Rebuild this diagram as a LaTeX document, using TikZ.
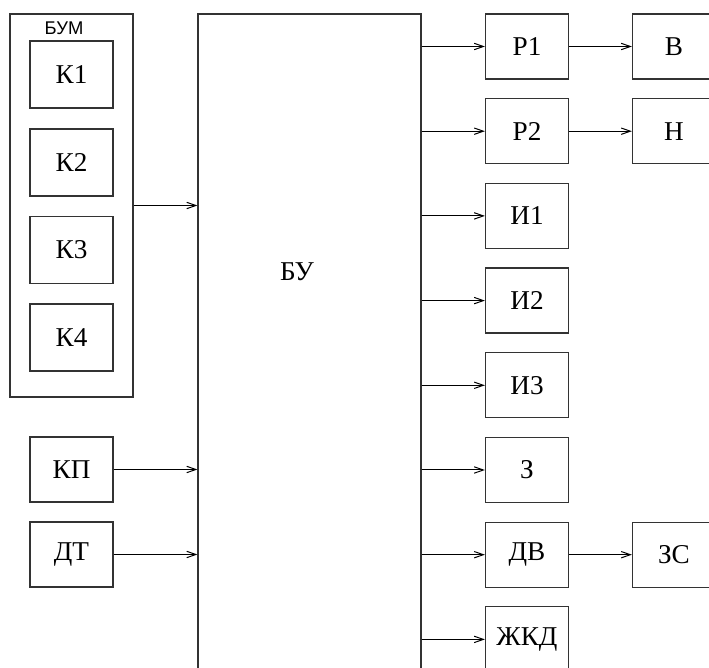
\documentclass[tikz,border=0pt]{standalone}
\usepackage{fontspec}
\setmainfont{Liberation Serif}
\setsansfont{Liberation Sans}
\usetikzlibrary{arrows.meta,positioning}

\begin{document}
\begin{tikzpicture}[
  x=0.5pt, y=-0.5pt,
  font=\fontsize{13.6}{16}\selectfont,
  >={Straight Barb[length=4.6pt,width=3.2pt]},
  blk/.style={
    draw=black!80, line width=0.6pt, inner sep=0pt,
    minimum width=41.5pt, minimum height=32.5pt
  },
  frame/.style={draw=black!80, line width=0.6pt, inner sep=0pt},
  arr/.style={->, line width=0.5pt}
]
% Visible area (boxes on the right and bottom run past it)
\clip (0,0) rectangle (709,668);

% BUM group with four K blocks
\node[frame, minimum width=61.5pt, minimum height=191.5pt] (bum) at (71.5,205.5) {};
\node[font=\sffamily\fontsize{9.2}{10}\selectfont] (bumT) at (64,28) {БУМ};
\foreach \i/\y in {1/74.5,2/162.5,3/250,4/337.5}
  \node[blk, minimum height=33.5pt] (k\i) at (71.5,\y) {К\i};

% KP and DT
\node[blk] (kp) at (71.5,469.5) {КП};
\node[blk] (dt) at (71.5,554.5) {ДТ};

% Control unit
\node[frame, minimum width=111.5pt, minimum height=343pt] (bu) at (309.5,357) {};
\node (buT) at (297,272) {БУ};

% inputs
\draw[arr] (bum.east) -- (bum.east -| bu.west);
\foreach \a in {kp,dt}
  \draw[arr] (\a.east) -- (\a.east -| bu.west);

% output column
\foreach \n/\t [count=\i from 0] in {r1/Р1,r2/Р2,i1/И1,i2/И2,i3/И3,z/З,dv/ДВ,zkd/ЖКД} {
  \node[blk] (\n) at (527,46.5+84.7*\i) {\t};
  \draw[arr] (bu.east |- \n.west) -- (\n.west);
}

% actuators
\node[blk] (v) at (674,46.5) {В};
\node[blk] (n) at (674,131.2) {Н};
\node[blk] (zs) at (674,554.7) {ЗС};
\foreach \a/\b in {r1/v,r2/n,dv/zs}
  \draw[arr] (\a) -- (\b);

\end{tikzpicture}
\end{document}
